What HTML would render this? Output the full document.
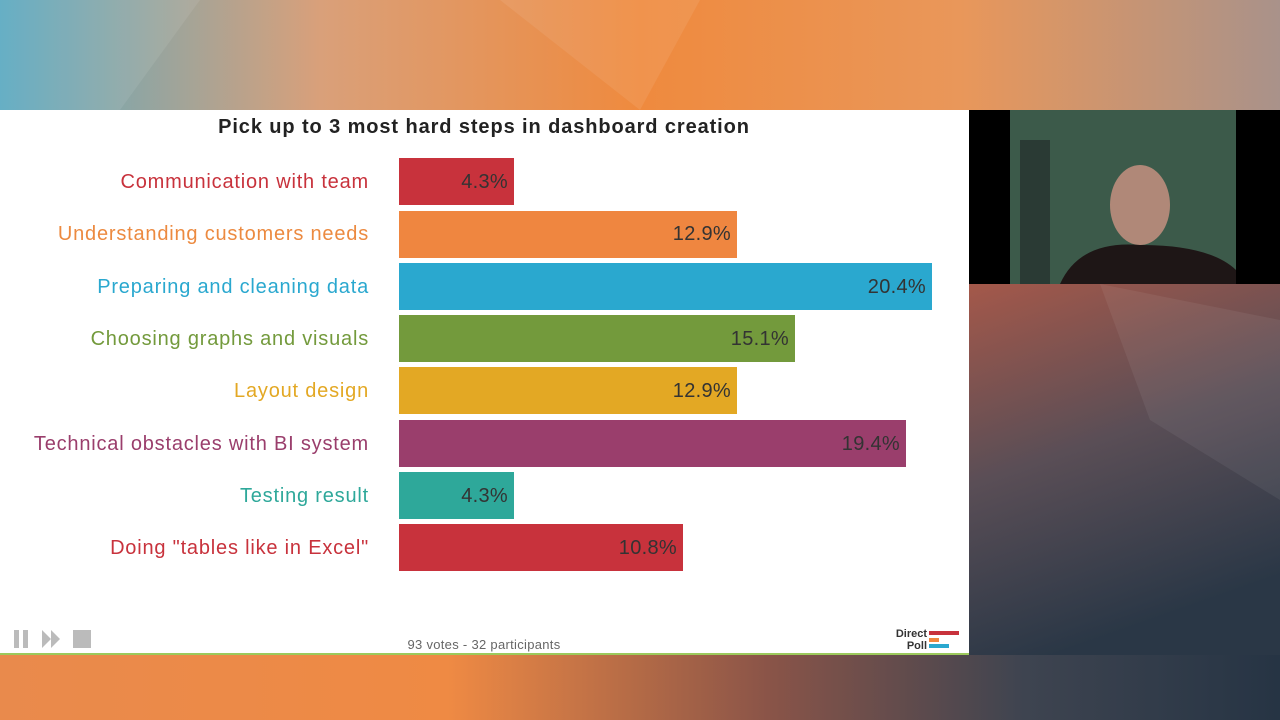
<!DOCTYPE html>
<html><head><meta charset="utf-8"><style>
html,body{margin:0;padding:0;width:1280px;height:720px;overflow:hidden;font-family:"Liberation Sans",sans-serif}
</style></head><body>
<svg width="1280" height="720" xmlns="http://www.w3.org/2000/svg">
<defs>
<linearGradient id="top" x1="0" y1="0" x2="1" y2="0">
<stop offset="0" stop-color="#5aa9c0"/><stop offset="0.25" stop-color="#d9a07a"/><stop offset="0.5" stop-color="#ef8a3e"/><stop offset="0.75" stop-color="#e9975a"/><stop offset="1" stop-color="#a9928a"/></linearGradient>
<linearGradient id="bot" x1="0" y1="0" x2="1" y2="0">
<stop offset="0" stop-color="#e98a4c"/><stop offset="0.35" stop-color="#ef8a44"/><stop offset="0.6" stop-color="#8a5448"/><stop offset="0.8" stop-color="#3e4450"/><stop offset="1" stop-color="#263444"/></linearGradient>
<linearGradient id="right" x1="0.75" y1="0.4" x2="1" y2="0.8">
<stop offset="0" stop-color="#a4584a"/><stop offset="0.5" stop-color="#5a4e56"/><stop offset="1" stop-color="#2a3746"/></linearGradient>
</defs>
<rect width="1280" height="720" fill="url(#right)"/>
<rect width="1280" height="110" fill="url(#top)"/>
<rect y="655" width="1280" height="65" fill="url(#bot)"/>
<polygon points="0,0 200,0 120,110 0,110" fill="#fff" opacity="0.08"/>
<polygon points="500,0 700,0 640,110" fill="#fff" opacity="0.08"/>
<polygon points="1100,284 1280,320 1280,500 1150,420" fill="#fff" opacity="0.06"/>
<rect x="0" y="110" width="969" height="545" fill="#fff"/>
<rect x="0" y="653" width="969" height="2" fill="#9cc95c"/>
<rect x="969" y="110" width="311" height="174" fill="#000"/>
<rect x="1010" y="110" width="226" height="174" fill="#3c5a4a"/>
<rect x="1020" y="140" width="30" height="144" fill="#2a3a34"/>
<ellipse cx="1140" cy="205" rx="30" ry="40" fill="#b08878"/>
<path d="M1060,284 Q1080,240 1140,245 Q1210,245 1236,270 L1236,284Z" fill="#1e1616"/>
<text x="484" y="133" text-anchor="middle" font-size="20" font-weight="bold" fill="#222" letter-spacing="0.9">Pick up to 3 most hard steps in dashboard creation</text>
<g font-size="20" text-anchor="end" letter-spacing="0.8">
<text x="369" y="188" fill="#c8323c">Communication with team</text>
<text x="369" y="240" fill="#ec8a40">Understanding customers needs</text>
<text x="369" y="293" fill="#2aa8cf">Preparing and cleaning data</text>
<text x="369" y="345" fill="#739a3c">Choosing graphs and visuals</text>
<text x="369" y="397" fill="#e3a824">Layout design</text>
<text x="369" y="450" fill="#9a3e6c">Technical obstacles with BI system</text>
<text x="369" y="502" fill="#2ea89a">Testing result</text>
<text x="369" y="554" fill="#c8323c">Doing "tables like in Excel"</text>
</g>
<rect x="399" y="158" width="115" height="47" fill="#c8323c"/>
<rect x="399" y="211" width="338" height="47" fill="#ef8640"/>
<rect x="399" y="263" width="533" height="47" fill="#2aa8cf"/>
<rect x="399" y="315" width="396" height="47" fill="#739a3c"/>
<rect x="399" y="367" width="338" height="47" fill="#e3a824"/>
<rect x="399" y="420" width="507" height="47" fill="#9a3e6c"/>
<rect x="399" y="472" width="115" height="47" fill="#2ea89a"/>
<rect x="399" y="524" width="284" height="47" fill="#c8323c"/>
<g font-size="20" text-anchor="end" fill="#333" letter-spacing="0.3">
<text x="508" y="188">4.3%</text>
<text x="731" y="240">12.9%</text>
<text x="926" y="293">20.4%</text>
<text x="789" y="345">15.1%</text>
<text x="731" y="397">12.9%</text>
<text x="900" y="450">19.4%</text>
<text x="508" y="502">4.3%</text>
<text x="677" y="554">10.8%</text>
</g>
<text x="484" y="649" text-anchor="middle" font-size="13" fill="#666" letter-spacing="0.3">93 votes - 32 participants</text>
<g fill="#bbb"><rect x="14" y="630" width="5" height="18"/><rect x="23" y="630" width="5" height="18"/>
<polygon points="42,630 51,639 42,648"/><polygon points="51,630 60,639 51,648"/>
<rect x="73" y="630" width="18" height="18"/></g>
<text x="927" y="637" text-anchor="end" font-size="11" font-weight="bold" fill="#333">Direct</text>
<text x="927" y="649" text-anchor="end" font-size="11" font-weight="bold" fill="#333">Poll</text>
<rect x="929" y="631" width="30" height="4" fill="#c8323c"/>
<rect x="929" y="638" width="10" height="4" fill="#ef8640"/>
<rect x="929" y="644" width="20" height="4" fill="#2aa8cf"/>
</svg>
</body></html>
